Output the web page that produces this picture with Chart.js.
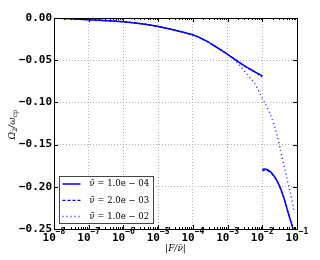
<!DOCTYPE html>
<html>
<head>
<meta charset="utf-8">
<script src="https://cdn.jsdelivr.net/npm/chart.js@4/dist/chart.umd.min.js"></script>
<style>
  html, body { margin: 0; padding: 0; background: #fff; }
  #wrap { width: 320px; height: 260px; }
</style>
</head>
<body>
<div id="wrap"><canvas id="myChart" width="320" height="260"></canvas></div>
<script>
// data
var xTicks = [1e-8, 1e-7, 1e-6, 1e-5, 1e-4, 1e-3, 1e-2, 1e-1];
var yTicks = [0, -0.05, -0.10, -0.15, -0.20, -0.25];
var nuLabels = ['1.0e \u2212 04', '2.0e \u2212 03', '1.0e \u2212 02'];

// nu = 1e-4, two branches (null = gap)
var xSolid = [1e-8, 1e-7, 1e-6, 1e-5, 4.3e-5, 1e-4, 2.2e-4, 4.4e-4, 1e-3, 2e-3, 4e-3, 6.9e-3, 1e-2, 1.01e-2,
              1.01e-2, 1.12e-2, 1.9e-2, 2.9e-2, 4.1e-2, 5.6e-2, 8e-2];
var ySolid = [0, -0.002, -0.0044, -0.010, -0.016, -0.020, -0.0262, -0.0335, -0.043, -0.0515, -0.0595, -0.065, -0.0685, null,
              -0.180, -0.179, -0.184, -0.196, -0.212, -0.231, -0.252];

// nu = 2e-3
var xDashed = [1e-8, 1e-7, 1e-6, 1e-5, 4.3e-5, 1e-4, 2.2e-4, 4.4e-4, 1e-3, 2e-3, 4e-3, 6.9e-3, 1e-2, 1.01e-2,
               1.01e-2, 1.2e-2, 1.9e-2, 2.9e-2, 4.1e-2, 5.6e-2, 8e-2];
var yDashed = [0, -0.002, -0.0044, -0.010, -0.016, -0.020, -0.0262, -0.0335, -0.043, -0.0515, -0.0598, -0.0655, -0.070, null,
               -0.181, -0.180, -0.185, -0.196, -0.212, -0.231, -0.252];

// nu = 1e-2
var xDotted = [1e-8, 1e-7, 1e-6, 1e-5, 4.3e-5, 1e-4, 2.2e-4, 4.4e-4, 1e-3, 1.5e-3, 2e-3, 3.2e-3, 4.5e-3, 5.9e-3,
               1e-2, 1.5e-2, 1.9e-2, 2.6e-2, 3.6e-2, 5.1e-2, 7.1e-2, 8.3e-2];
var yDotted = [0, -0.002, -0.0044, -0.010, -0.016, -0.020, -0.0262, -0.0335, -0.043, -0.049, -0.054, -0.0636, -0.0715, -0.077,
               -0.095, -0.109, -0.119, -0.137, -0.163, -0.190, -0.215, -0.231];

function pts(xs, ys) {
  return xs.map(function (x, i) { return { x: x, y: ys[i] }; });
}

// frame, inward ticks, minor ticks, x tick labels, legend, titles
var framePlugin = {
  id: 'frame',
  afterDatasetsDraw: function (chart) {
    var ctx = chart.ctx, a = chart.chartArea;
    var xs = chart.scales.x, ys = chart.scales.y;
    ctx.save();
    ctx.strokeStyle = '#000';
    ctx.lineWidth = 1;
    ctx.beginPath();
    xTicks.forEach(function (v) {
      var px = Math.round(xs.getPixelForValue(v)) + 0.5;
      ctx.moveTo(px, a.bottom); ctx.lineTo(px, a.bottom - 4);
      ctx.moveTo(px, a.top); ctx.lineTo(px, a.top + 4);
      if (v < 1e-1) {
        for (var k = 2; k <= 9; k++) {
          var pm = Math.round(xs.getPixelForValue(v * k)) + 0.5;
          ctx.moveTo(pm, a.bottom); ctx.lineTo(pm, a.bottom - 2);
          ctx.moveTo(pm, a.top); ctx.lineTo(pm, a.top + 2);
        }
      }
    });
    yTicks.forEach(function (v) {
      var py = Math.round(ys.getPixelForValue(v)) + 0.5;
      ctx.moveTo(a.left, py); ctx.lineTo(a.left + 4, py);
      ctx.moveTo(a.right, py); ctx.lineTo(a.right - 4, py);
    });
    ctx.stroke();
    ctx.strokeRect(Math.round(a.left) + 0.5, Math.round(a.top) + 0.5,
                   Math.round(a.right - a.left), Math.round(a.bottom - a.top));

    // x tick labels: 10 with raised exponent
    ctx.fillStyle = '#000';
    ctx.textBaseline = 'alphabetic';
    ctx.textAlign = 'left';
    xTicks.forEach(function (v) {
      var base = '10';
      var ex = '\u2212' + String(Math.abs(Math.round(Math.log10(v))));
      ctx.font = 'bold 11px "DejaVu Sans Mono"';
      var wb = ctx.measureText(base).width;
      ctx.font = 'bold 8px "DejaVu Sans Mono"';
      var we = ctx.measureText(ex).width;
      var x0 = xs.getPixelForValue(v) - (wb + we) / 2;
      ctx.font = 'bold 11px "DejaVu Sans Mono"';
      ctx.fillText(base, x0, a.bottom + 11.5);
      ctx.font = 'bold 8px "DejaVu Sans Mono"';
      ctx.fillText(ex, x0 + wb, a.bottom + 5);
    });

    // legend box
    var lx = 59.5, ly = 176.5, lw = 94, lh = 47;
    ctx.fillStyle = '#fff';
    ctx.fillRect(lx, ly, lw, lh);
    ctx.strokeStyle = '#444';
    ctx.strokeRect(lx, ly, lw, lh);
    chart.data.datasets.forEach(function (ds, i) {
      var yy = ly + 7.5 + i * 16.3;
      ctx.strokeStyle = ds.borderColor;
      ctx.lineWidth = ds.borderWidth;
      ctx.setLineDash(ds.borderDash || []);
      ctx.beginPath();
      ctx.moveTo(lx + 3, yy); ctx.lineTo(lx + 21, yy);
      ctx.stroke();
      ctx.setLineDash([]);
      ctx.fillStyle = '#000';
      ctx.font = '8.5px "DejaVu Serif"';
      ctx.textBaseline = 'middle';
      ctx.textAlign = 'left';
      ctx.fillText(ds.label, lx + 30, yy);
    });

    // axis titles with sub-scripts
    ctx.fillStyle = '#000';
    ctx.textBaseline = 'alphabetic';
    ctx.font = 'italic 9px "DejaVu Serif"';
    ctx.textAlign = 'center';
    ctx.fillText('|F/\u03BD\u0304|', (a.left + a.right) / 2, 251);

    ctx.translate(15, (a.top + a.bottom) / 2 + 16);
    ctx.rotate(-Math.PI / 2);
    ctx.textAlign = 'left';
    var x0 = 0;
    var parts = [['\u03A9', 9, 0], ['2', 6.5, 2], ['/\u03C9', 9, 0], ['cp', 6.5, 2]];
    parts.forEach(function (p) {
      ctx.font = (p[1] > 8 ? 'italic ' : '') + p[1] + 'px "DejaVu Serif"';
      ctx.fillText(p[0], x0, p[2]);
      x0 += ctx.measureText(p[0]).width;
    });
    ctx.restore();
  }
};

var tickFont = { family: '"DejaVu Sans Mono"', weight: 'bold', size: 11 };

var ctx = document.getElementById('myChart').getContext('2d');
var chart = new Chart(ctx, {
  type: 'line',
  data: {
    datasets: [{
      label: '\u03BD\u0304 = ' + nuLabels[0],
      data: pts(xSolid, ySolid),
      borderColor: '#0000ff',
      borderWidth: 1.5,
      spanGaps: false
    }, {
      label: '\u03BD\u0304 = ' + nuLabels[1],
      data: pts(xDashed, yDashed),
      borderColor: '#0000ff',
      borderWidth: 1.2,
      borderDash: [3, 2],
      spanGaps: false
    }, {
      label: '\u03BD\u0304 = ' + nuLabels[2],
      data: pts(xDotted, yDotted),
      borderColor: '#2020ff',
      borderWidth: 1.5,
      borderDash: [1, 3]
    }]
  },
  plugins: [framePlugin],
  options: {
    responsive: false,
    animation: false,
    elements: { point: { radius: 0 }, line: { cubicInterpolationMode: 'monotone' } },
    layout: { padding: { left: 0, right: 23, top: 18, bottom: 0 } },
    plugins: { legend: { display: false }, tooltip: { enabled: false } },
    scales: {
      x: {
        type: 'logarithmic',
        min: 1e-8,
        max: 1e-1,
        afterBuildTicks: function (scale) {
          scale.ticks = xTicks.map(function (v) { return { value: v }; });
        },
        afterFit: function (scale) { scale.height = 31; },
        ticks: { display: false },
        grid: { color: '#b0b0b0', drawTicks: false, lineWidth: 1 },
        border: { display: false, dash: [1, 2] }
      },
      y: {
        min: -0.25,
        max: 0,
        afterBuildTicks: function (scale) {
          scale.ticks = yTicks.map(function (v) { return { value: v }; });
        },
        afterFit: function (scale) { scale.width = 54; },
        ticks: {
          padding: 2,
          color: '#000',
          font: tickFont,
          callback: function (v) { return (v < 0 ? '\u2212' : '') + Math.abs(v).toFixed(2); }
        },
        grid: { color: '#b0b0b0', drawTicks: false, lineWidth: 1 },
        border: { display: false, dash: [1, 2] }
      }
    }
  }
});
</script>
</body>
</html>
